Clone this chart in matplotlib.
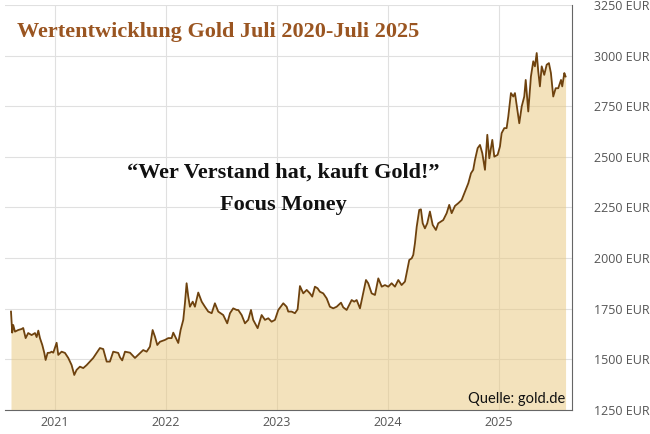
import matplotlib.pyplot as plt

# gold price in EUR (decimal year, EUR)
years = [2020.604, 2020.615, 2020.624, 2020.640, 2020.669, 2020.700, 2020.714, 2020.736, 2020.759, 2020.790,
         2020.820, 2020.835, 2020.850, 2020.865, 2020.886, 2020.904, 2020.916, 2020.934, 2020.955, 2020.970,
         2020.985, 2021.015, 2021.030, 2021.060, 2021.090, 2021.120, 2021.150, 2021.174, 2021.195, 2021.225,
         2021.255, 2021.286, 2021.315, 2021.345, 2021.376, 2021.405, 2021.435, 2021.466, 2021.495, 2021.525,
         2021.570, 2021.586, 2021.606, 2021.631, 2021.676, 2021.721, 2021.750, 2021.795, 2021.826, 2021.856,
         2021.880, 2021.901, 2021.922, 2021.946, 2021.991, 2022.021, 2022.051, 2022.066, 2022.090, 2022.111,
         2022.132, 2022.156, 2022.171, 2022.186, 2022.201, 2022.216, 2022.241, 2022.261, 2022.291, 2022.322,
         2022.351, 2022.381, 2022.412, 2022.441, 2022.471, 2022.516, 2022.552, 2022.577, 2022.606, 2022.637,
         2022.651, 2022.682, 2022.712, 2022.741, 2022.766, 2022.786, 2022.826, 2022.862, 2022.892, 2022.922,
         2022.952, 2022.982, 2023.012, 2023.057, 2023.087, 2023.102, 2023.132, 2023.162, 2023.186, 2023.207,
         2023.237, 2023.268, 2023.297, 2023.318, 2023.342, 2023.366, 2023.387, 2023.417, 2023.448, 2023.477,
         2023.507, 2023.538, 2023.577, 2023.597, 2023.628, 2023.673, 2023.696, 2023.718, 2023.748, 2023.777,
         2023.802, 2023.822, 2023.853, 2023.883, 2023.913, 2023.944, 2023.973, 2024.003, 2024.033, 2024.063,
         2024.093, 2024.123, 2024.153, 2024.174, 2024.192, 2024.214, 2024.228, 2024.243, 2024.259, 2024.282,
         2024.297, 2024.313, 2024.333, 2024.354, 2024.378, 2024.403, 2024.432, 2024.453, 2024.475, 2024.498,
         2024.529, 2024.552, 2024.574, 2024.604, 2024.633, 2024.664, 2024.694, 2024.724, 2024.748, 2024.768,
         2024.784, 2024.808, 2024.829, 2024.850, 2024.874, 2024.895, 2024.913, 2024.940, 2024.958, 2024.988,
         2025.009, 2025.024, 2025.048, 2025.069, 2025.084, 2025.108, 2025.129, 2025.144, 2025.159, 2025.183,
         2025.205, 2025.228, 2025.241, 2025.264, 2025.288, 2025.309, 2025.324, 2025.340, 2025.354, 2025.369,
         2025.385, 2025.408, 2025.430, 2025.450, 2025.468, 2025.489, 2025.511, 2025.534, 2025.559, 2025.570,
         2025.589, 2025.600]
price = [1736, 1632, 1670, 1637, 1645, 1650, 1655, 1605, 1630, 1620,
         1630, 1610, 1642, 1605, 1571, 1532, 1497, 1532, 1533, 1538,
         1533, 1582, 1522, 1538, 1532, 1507, 1472, 1423, 1448, 1464,
         1457, 1472, 1489, 1507, 1532, 1556, 1551, 1489, 1489, 1538,
         1532, 1510, 1495, 1538, 1533, 1507, 1522, 1546, 1538, 1563,
         1645, 1612, 1571, 1587, 1596, 1605, 1605, 1632, 1605, 1581,
         1645, 1695, 1777, 1876, 1810, 1760, 1785, 1760, 1830, 1785,
         1760, 1736, 1728, 1777, 1736, 1719, 1678, 1728, 1752, 1744,
         1744, 1719, 1678, 1695, 1744, 1695, 1654, 1719, 1695, 1703,
         1686, 1695, 1744, 1777, 1760, 1736, 1736, 1728, 1747, 1862,
         1826, 1843, 1826, 1810, 1859, 1851, 1834, 1826, 1801, 1760,
         1752, 1760, 1780, 1757, 1744, 1793, 1785, 1793, 1752, 1826,
         1892, 1876, 1826, 1818, 1900, 1859, 1867, 1859, 1876, 1859,
         1892, 1867, 1884, 1942, 1991, 1999, 2016, 2073, 2155, 2238,
         2241, 2172, 2147, 2172, 2230, 2164, 2139, 2172, 2180, 2188,
         2222, 2263, 2222, 2258, 2271, 2287, 2328, 2370, 2419, 2436,
         2485, 2543, 2559, 2518, 2436, 2609, 2493, 2584, 2501, 2510,
         2551, 2617, 2642, 2642, 2699, 2815, 2798, 2815, 2757, 2666,
         2749, 2798, 2880, 2724, 2897, 2972, 2947, 3013, 2922, 2848,
         2947, 2905, 2955, 2963, 2914, 2798, 2839, 2839, 2880, 2848,
         2914, 2897]

year_ticks = [2021, 2022, 2023, 2024, 2025]
eur_ticks = [1250, 1500, 1750, 2000, 2250, 2500, 2750, 3000, 3250]
eur_labels = [f"{v} EUR" for v in eur_ticks]

fig = plt.figure(figsize=(6.5, 4.34), dpi=100)
ax = fig.add_axes([5 / 650, 1 - 410 / 434, 567 / 650, 405 / 434])

ax.fill_between(years, price, 1250, color="#e9c77b", alpha=0.5, lw=0, zorder=2)
ax.plot(years, price, color="#6e420e", lw=1.3, zorder=3)

ax.set_xlim(2020.55, 2025.658)
ax.set_ylim(1250, 3250)
ax.set_xticks(year_ticks)
ax.set_xticklabels([str(y) for y in year_ticks], fontsize=9, color="#555555", family="Open Sans")
ax.set_yticks(eur_ticks)
ax.set_yticklabels(eur_labels, fontsize=9, color="#555555", family="Open Sans")
ax.yaxis.tick_right()
ax.tick_params(axis="y", length=0, pad=16)
ax.tick_params(axis="x", length=0, pad=4)
ax.grid(True, color="#e0e0e0", lw=0.8, zorder=1)
ax.set_axisbelow(True)

for side in ["left", "top"]:
    ax.spines[side].set_visible(False)
ax.spines["bottom"].set_color("#666666")
ax.spines["right"].set_color("#666666")
ax.spines["bottom"].set_linewidth(0.8)
ax.spines["right"].set_linewidth(0.8)

# title and quote
fig.text(17 / 650, 1 - 32 / 434, "Wertentwicklung Gold Juli 2020-Juli 2025", family="Liberation Serif",
         fontweight="bold", fontsize=16, color="#9a5521", va="center", ha="left")
fig.text(283 / 650, 1 - 173 / 434, "\u201cWer Verstand hat, kauft Gold!\u201d", family="Liberation Serif",
         fontweight="bold", fontsize=16, color="#111111", va="center", ha="center")
fig.text(283 / 650, 1 - 205 / 434, "Focus Money", family="Liberation Serif",
         fontweight="bold", fontsize=16, color="#111111", va="center", ha="center")
fig.text(565 / 650, 1 - 399 / 434, "Quelle: gold.de", family="Lato",
         fontsize=10.5, color="#111111", va="center", ha="right")

fig.savefig("out.png", dpi=100)
